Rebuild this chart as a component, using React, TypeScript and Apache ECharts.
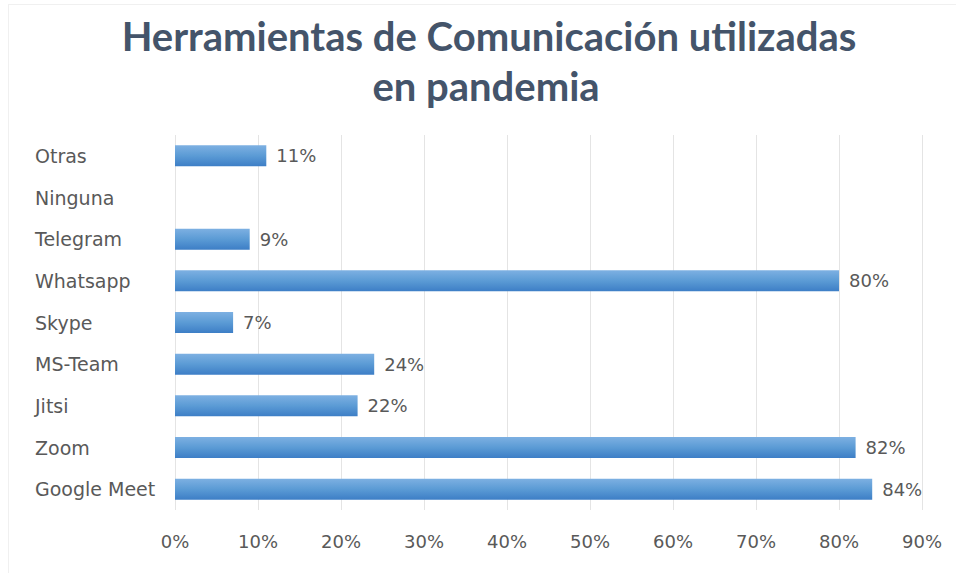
import React, { useEffect, useRef } from "react";
import * as echarts from "echarts";

const categories = ["Google Meet", "Zoom", "Jitsi", "MS-Team", "Skype", "Whatsapp", "Telegram", "Ninguna", "Otras"];
const values = [84, 82, 22, 24, 7, 80, 9, 0, 11];
const xTicks = [0, 10, 20, 30, 40, 50, 60, 70, 80, 90];
const titleLines = ["Herramientas de Comunicación utilizadas", "en pandemia"];

export default function App() {
  const ref = useRef<HTMLDivElement>(null);
  useEffect(() => {
    const chart = echarts.init(ref.current!, null, { renderer: "svg" });
    const titleStyle = {
      fontFamily: "Lato",
      fontWeight: "bold",
      fontSize: 40,
      fill: "#44546a",
      align: "center",
      verticalAlign: "middle",
    };
    chart.setOption({
      animation: false,
      backgroundColor: "#ffffff",
      graphic: [
        { type: "line", shape: { x1: 8, y1: 4.5, x2: 956, y2: 4.5 }, style: { stroke: "#f0f0f0", lineWidth: 1 } },
        { type: "line", shape: { x1: 8.5, y1: 4, x2: 8.5, y2: 573 }, style: { stroke: "#f0f0f0", lineWidth: 1 } },
        { type: "text", x: 489, y: 36, style: { ...titleStyle, text: titleLines[0] } },
        { type: "text", x: 486, y: 86, style: { ...titleStyle, text: titleLines[1] } },
      ],
      grid: { left: 175, right: 34, top: 135, bottom: 63, containLabel: false },
      xAxis: {
        type: "value",
        min: xTicks[0],
        max: xTicks[xTicks.length - 1],
        interval: 10,
        axisLine: { show: false },
        axisTick: { show: false },
        splitLine: { show: true, lineStyle: { color: "#e4e4e4", width: 1 } },
        axisLabel: {
          formatter: (v: number) => v + "%",
          color: "#595959",
          fontFamily: "DejaVu Sans",
          fontSize: 18,
          margin: 22,
        },
      },
      yAxis: {
        type: "category",
        data: categories,
        axisLine: { show: false },
        axisTick: { show: false },
        splitLine: { show: false },
        axisLabel: {
          align: "left",
          margin: 140,
          color: "#595959",
          fontFamily: "DejaVu Sans",
          fontSize: 19,
        },
      },
      series: [
        {
          type: "bar",
          data: values,
          barWidth: 21,
          itemStyle: {
            color: new echarts.graphic.LinearGradient(0, 0, 0, 1, [
              { offset: 0, color: "#7db0e2" },
              { offset: 0.5, color: "#5b9bd5" },
              { offset: 1, color: "#3d7ec6" },
            ]),
            borderWidth: 0,
          },
          label: {
            show: true,
            position: "right",
            distance: 10,
            formatter: (p: any) => (p.value ? p.value + "%" : ""),
            color: "#595959",
            fontFamily: "DejaVu Sans",
            fontSize: 18,
          },
        },
      ],
    });
    return () => chart.dispose();
  }, []);
  return <div ref={ref} style={{ width: 956, height: 573, position: "absolute", left: 0, top: 0 }} />;
}
